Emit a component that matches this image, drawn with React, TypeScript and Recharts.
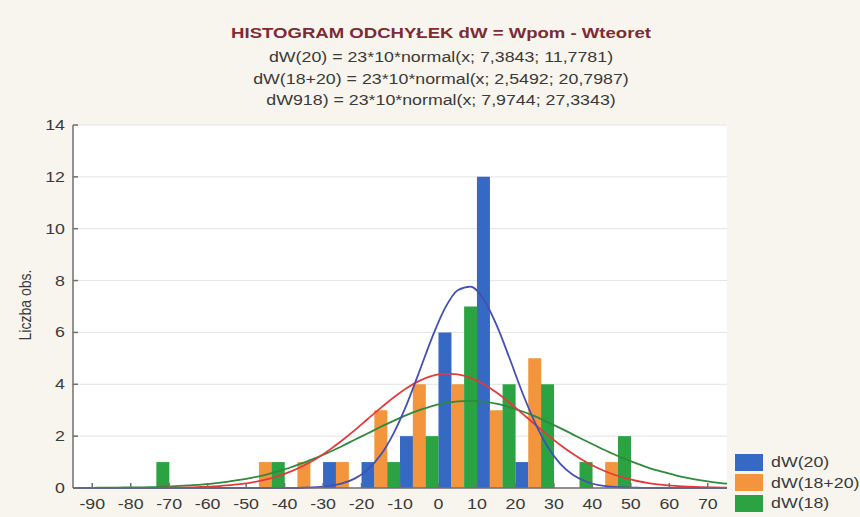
import {
  ComposedChart,
  Bar,
  Line,
  XAxis,
  YAxis,
  CartesianGrid,
  Legend,
} from "recharts";

// histogram bins (start of each 10-wide class)
const binStarts = [-90, -80, -70, -60, -50, -40, -30, -20, -10, 0, 10, 20, 30, 40, 50, 60];
const countsDW20 = [0, 0, 0, 0, 0, 0, 1, 1, 2, 6, 12, 1, 0, 0, 0, 0];
const countsDW1820 = [0, 0, 0, 0, 1, 1, 1, 3, 4, 4, 3, 5, 0, 1, 0, 0];
const countsDW18 = [0, 1, 0, 0, 1, 0, 0, 1, 2, 7, 4, 4, 1, 2, 0, 0];

// fitted curves, read at every bar slot centre from x = -95 to x = 75
const curveDW20 = [
  0, 0, 0, 0, 0, 0, 0, 0, 0, 0, 0, 0, 0, 0, 0, 0, 0, 0, 0.01, 0.03, 0.08, 0.18, 0.37, 0.72, 1.28, 2.11,
  3.2, 4.48, 5.8, 6.93, 7.63, 7.77, 7.29, 6.32, 5.06, 3.73, 2.55, 1.6, 0.93, 0.5, 0.25, 0.11, 0.05, 0.02,
  0.01, 0, 0, 0, 0, 0, 0, 0,
];
const curveDW1820 = [
  0, 0, 0, 0, 0, 0, 0, 0.01, 0.01, 0.02, 0.04, 0.06, 0.1, 0.15, 0.22, 0.32, 0.46, 0.64, 0.87, 1.14, 1.47,
  1.84, 2.24, 2.67, 3.09, 3.49, 3.85, 4.13, 4.32, 4.41, 4.38, 4.25, 4.01, 3.69, 3.31, 2.89, 2.46, 2.05,
  1.66, 1.31, 1.0, 0.75, 0.55, 0.39, 0.27, 0.18, 0.12, 0.08, 0.05, 0.03, 0.02, 0.01,
];
const curveDW18 = [
  0, 0, 0.01, 0.01, 0.02, 0.02, 0.03, 0.05, 0.07, 0.1, 0.13, 0.18, 0.24, 0.31, 0.4, 0.51, 0.65, 0.8, 0.98,
  1.17, 1.39, 1.62, 1.87, 2.11, 2.36, 2.59, 2.81, 3.0, 3.16, 3.27, 3.34, 3.36, 3.33, 3.25, 3.12, 2.96,
  2.77, 2.54, 2.31, 2.06, 1.81, 1.57, 1.34, 1.13, 0.94, 0.76, 0.62, 0.49, 0.38, 0.29, 0.22, 0.17,
];

const xTicks = [-90, -80, -70, -60, -50, -40, -30, -20, -10, 0, 10, 20, 30, 40, 50, 60, 70];
const yTicks = [0, 2, 4, 6, 8, 10, 12, 14];

const seriesNames = ["dW(20)", "dW(18+20)", "dW(18)"];
const titleLines = [
  "dW(20) = 23*10*normal(x; 7,3843; 11,7781)",
  "dW(18+20) = 23*10*normal(x; 2,5492; 20,7987)",
  "dW918) = 23*10*normal(x; 7,9744; 27,3343)",
];

// each class is split into three slots: dW(20), dW(18+20), dW(18)
const slot = 10 / 3;
const rows = curveDW20.map((_, i) => {
  const k = (i + 1) % 3;
  const bin = binStarts.indexOf(-100 + 10 * Math.floor((i + 1) / 3));
  const pick = (arr: number[], s: number) => (bin >= 0 && k === s ? arr[bin] : 0);
  return {
    x: Math.round((-95 + i * slot) * 1000) / 1000,
    dW20: pick(countsDW20, 0),
    dW1820: pick(countsDW1820, 1),
    dW18: pick(countsDW18, 2),
    fit20: curveDW20[i],
    fit1820: curveDW1820[i],
    fit18: curveDW18[i],
  };
});

const STRETCH = 1.27;
const font = "'Liberation Sans', Arial, sans-serif";
const textColor = "#3a3a3a";

const XTick = ({ x, y, payload }: any) => (
  <g transform={`translate(${x},${y}) scale(${STRETCH},1)`}>
    <text textAnchor="middle" dy="0.71em" fill={textColor} fontSize={14} fontFamily={font}>
      {payload.value}
    </text>
  </g>
);

const YTick = ({ x, y, payload }: any) => (
  <g transform={`translate(${x},${y}) scale(${STRETCH},1)`}>
    <text textAnchor="end" dy="0.355em" fill={textColor} fontSize={14} fontFamily={font}>
      {payload.value}
    </text>
  </g>
);

const renderLegend = (props: any) => {
  const items = (props.payload || [])
    .filter((p: any) => seriesNames.includes(p.value))
    .sort((a: any, b: any) => seriesNames.indexOf(a.value) - seriesNames.indexOf(b.value));
  return (
    <div style={{ fontFamily: font, fontSize: 14, color: textColor }}>
      {items.map((p: any) => (
        <div key={p.value} style={{ display: "flex", alignItems: "center", height: 20.5 }}>
          <span
            style={{ display: "inline-block", width: 28, height: 17, background: p.color, marginRight: 8 }}
          />
          <span
            style={{
              display: "inline-block",
              lineHeight: "16px",
              transform: `scaleX(${STRETCH})`,
              transformOrigin: "left",
              whiteSpace: "nowrap",
            }}
          >
            {p.value}
          </span>
        </div>
      ))}
    </div>
  );
};

export default function App() {
  return (
    <div
      style={{
        position: "absolute",
        left: 0,
        top: 0,
        width: 860,
        height: 517,
        background: "#f8f5ee",
        fontFamily: font,
      }}
    >
      <div
        style={{
          position: "absolute",
          left: 441,
          top: 24,
          transform: `translateX(-50%) scaleX(1.28)`,
          whiteSpace: "nowrap",
          fontSize: 14.5,
          fontWeight: "bold",
          color: "#7d2b35",
          lineHeight: "18px",
        }}
      >
        HISTOGRAM ODCHYŁEK dW = Wpom - Wteoret
      </div>
      {titleLines.map((t, i) => (
        <div
          key={t}
          style={{
            position: "absolute",
            left: 441,
            top: 48 + i * 21.5,
            transform: `translateX(-50%) scaleX(${STRETCH})`,
            whiteSpace: "nowrap",
            fontSize: 14,
            color: textColor,
            lineHeight: "18px",
          }}
        >
          {t}
        </div>
      ))}
      <div
        style={{
          position: "absolute",
          left: 25,
          top: 305,
          transform: "translate(-50%, -50%) rotate(-90deg) scaleY(1.2)",
          whiteSpace: "nowrap",
          fontSize: 14,
          color: textColor,
          lineHeight: "16px",
        }}
      >
        Liczba obs.
      </div>
      <ComposedChart
        width={860}
        height={517}
        data={rows}
        margin={{ top: 125, right: 8, bottom: 0, left: 13 }}
        barCategoryGap={0}
        barGap={0}
      >
        <CartesianGrid vertical={false} stroke="#e4e4e4" fill="#ffffff" yAxisId="left" />
        <XAxis
          dataKey="x"
          type="number"
          domain={[-95, 75]}
          ticks={xTicks}
          interval={0}
          height={29}
          tick={<XTick />}
          tickLine={{ stroke: "#6f6f6f" }}
          tickSize={-5}
          tickMargin={16}
          stroke="#6f6f6f"
          strokeWidth={1.5}
        />
        <XAxis
          xAxisId="top"
          orientation="top"
          dataKey="x"
          type="number"
          domain={[-95, 75]}
          ticks={xTicks}
          interval={0}
          height={0}
          tick={false}
          tickLine={{ stroke: "#8a8a8a" }}
          tickSize={-4}
          stroke="#8a8a8a"
        />
        <YAxis
          yAxisId="left"
          domain={[0, 14]}
          ticks={yTicks}
          interval={0}
          width={60}
          tick={<YTick />}
          tickLine={{ stroke: "#6f6f6f" }}
          tickSize={-5}
          tickMargin={13}
          stroke="#6f6f6f"
          strokeWidth={1.5}
        />
        <YAxis
          yAxisId="right"
          orientation="right"
          domain={[0, 14]}
          ticks={yTicks}
          interval={0}
          width={0}
          tick={false}
          tickLine={{ stroke: "#8a8a8a" }}
          tickSize={-4}
          stroke="#8a8a8a"
        />
        <Legend
          layout="vertical"
          align="right"
          verticalAlign="bottom"
          content={renderLegend}
          wrapperStyle={{ left: 735, top: 452, width: 125 }}
        />
        <Bar dataKey="dW20" name="dW(20)" yAxisId="left" stackId="h" fill="#3569c4" isAnimationActive={false} />
        <Bar dataKey="dW1820" name="dW(18+20)" yAxisId="left" stackId="h" fill="#f2953d" isAnimationActive={false} />
        <Bar dataKey="dW18" name="dW(18)" yAxisId="left" stackId="h" fill="#2ba343" isAnimationActive={false} />
        <Line
          dataKey="fit18"
          yAxisId="left"
          type="monotone"
          stroke="#2f8a3c"
          strokeWidth={1.8}
          dot={false}
          legendType="none"
          isAnimationActive={false}
        />
        <Line
          dataKey="fit1820"
          yAxisId="left"
          type="monotone"
          stroke="#e5393a"
          strokeWidth={1.8}
          dot={false}
          legendType="none"
          isAnimationActive={false}
        />
        <Line
          dataKey="fit20"
          yAxisId="left"
          type="monotone"
          stroke="#4450b4"
          strokeWidth={1.8}
          dot={false}
          legendType="none"
          isAnimationActive={false}
        />
      </ComposedChart>
    </div>
  );
}
